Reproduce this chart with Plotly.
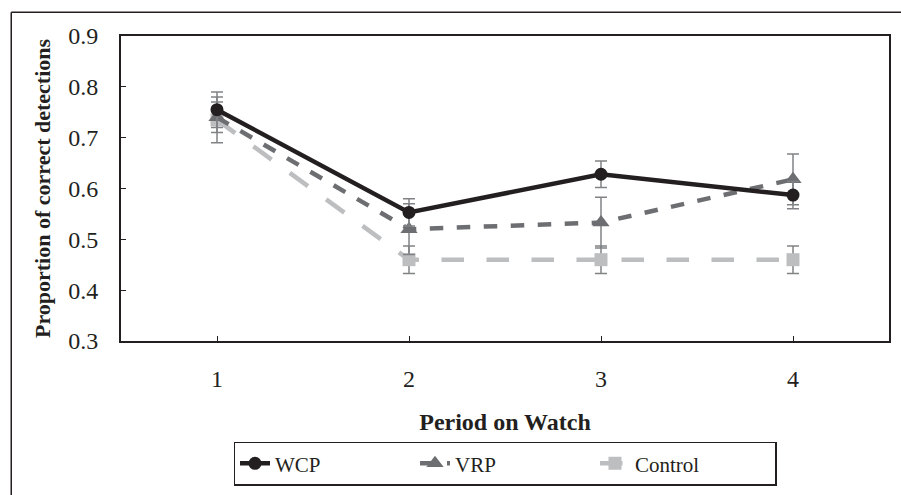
import plotly.graph_objects as go

periods = [1, 2, 3, 4]
tick_labels = ["1", "2", "3", "4"]
series_names = ["WCP", "VRP", "Control"]
wcp = [0.755, 0.553, 0.628, 0.587]
wcp_err = [0.035, 0.027, 0.026, 0.027]
vrp = [0.740, 0.520, 0.533, 0.618]
vrp_err = [0.030, 0.050, 0.050, 0.050]
control = [0.735, 0.460, 0.460, 0.460]
control_err = [0.045, 0.027, 0.027, 0.027]

FONT = "Liberation Serif"
ERR = "#808285"

fig = go.Figure()
styles = [
    (series_names[0], wcp, wcp_err, "#231f20", "solid", "circle", 13),
    (series_names[1], vrp, vrp_err, "#6d6e71", "dash", "triangle-up", 15),
    (series_names[2], control, control_err, "#bcbec0", "longdash", "square", 13),
]
for rank, (name, vals, err, col, dash, sym, msize) in enumerate(styles):
    fig.add_trace(go.Scatter(
        x=periods, y=vals, name=name, mode="lines+markers", legendrank=rank,
        line=dict(color=col, width=4.5, dash=dash),
        marker=dict(symbol=sym, size=msize, color=col),
        error_y=dict(type="data", array=err, visible=True, color=ERR, thickness=1.5, width=6),
    ))

# draw Control underneath, WCP on top
fig.data = tuple(reversed(fig.data))

fig.update_layout(
    width=901, height=495,
    margin=dict(l=121, r=10, t=36, b=150),
    paper_bgcolor="white", plot_bgcolor="white",
    font=dict(family=FONT, size=24, color="#231f20"),
    showlegend=True,
    legend=dict(
        orientation="h", x=0.5, xanchor="center", y=-0.33, yanchor="top",
        bordercolor="#231f20", borderwidth=1.5, font=dict(family=FONT, size=21),
        traceorder="normal", entrywidth=135, entrywidthmode="pixels",
    ),
    xaxis=dict(
        range=[0.5, 4.5], tickvals=periods, ticktext=tick_labels,
        showline=True, linecolor="#231f20", linewidth=2, mirror=True,
        ticks="inside", ticklen=5, tickcolor="#231f20", showgrid=False, zeroline=False,
        ticklabelstandoff=15, tickfont=dict(family=FONT, size=24),
        title=dict(text="<b>Period on Watch</b>", font=dict(family=FONT, size=24), standoff=22),
    ),
    yaxis=dict(
        range=[0.3, 0.9], dtick=0.1, tickformat=".1f",
        showline=True, linecolor="#231f20", linewidth=2, mirror=True,
        ticks="inside", ticklen=5, tickcolor="#231f20", showgrid=False, zeroline=False,
        ticklabelstandoff=16, tickfont=dict(family=FONT, size=24),
        title=dict(text="<b>Proportion of correct detections</b>", font=dict(family=FONT, size=22), standoff=12),
    ),
    shapes=[
        dict(type="line", xref="paper", yref="paper", x0=-0.1429, x1=1.2, y0=1.0777, y1=1.0777,
             line=dict(color="#231f20", width=1.5)),
        dict(type="line", xref="paper", yref="paper", x0=-0.1429, x1=-0.1429, y0=1.0777, y1=-0.6,
             line=dict(color="#231f20", width=1.5)),
    ],
)

fig.write_html("out.html")
